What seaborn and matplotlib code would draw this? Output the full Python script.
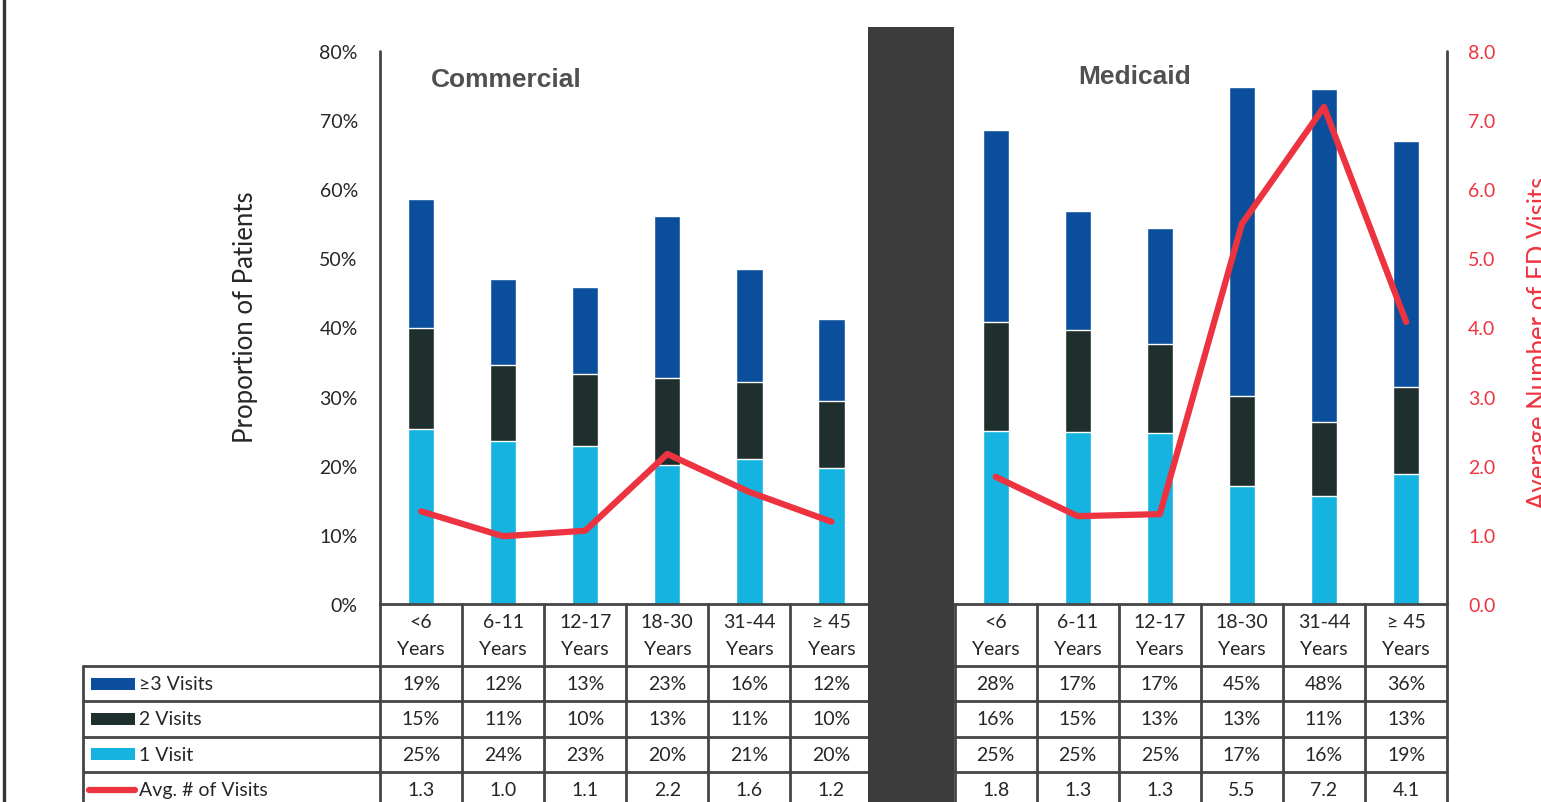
import numpy as np
import pandas as pd
import seaborn as sns
import matplotlib.pyplot as plt
import matplotlib.transforms as mtransforms
from matplotlib.patches import Rectangle
from matplotlib.lines import Line2D

# --- data ---
payers = ["Commercial", "Medicaid"]
age_groups = ["<6\nYears", "6-11\nYears", "12-17\nYears",
              "18-30\nYears", "31-44\nYears", "\u2265 45\nYears"]

# proportion of patients (%) per visit count
comm_1 = [25.3, 23.6, 22.9, 20.1, 21.0, 19.7]
comm_2 = [14.6, 11.0, 10.4, 12.6, 11.1, 9.7]
comm_3 = [18.7, 12.4, 12.6, 23.4, 16.4, 11.8]
med_1 = [25.0, 24.9, 24.7, 17.1, 15.6, 18.8]
med_2 = [15.8, 14.8, 12.9, 13.0, 10.7, 12.6]
med_3 = [27.7, 17.2, 16.8, 44.7, 48.2, 35.6]

# average number of ED visits
comm_avg = [1.34, 0.98, 1.06, 2.17, 1.62, 1.19]
med_avg = [1.84, 1.27, 1.30, 5.50, 7.19, 4.08]

C3 = "#0b4f9c"
C2 = "#1f2f2e"
C1 = "#15b4e0"
RED = "#ee3340"
GRID = "#454545"
TXT = "#262626"

# long table, one row per bar; slot 6 is left empty for the separator
rows = []
for k, (payer, v1, v2, v3, av) in enumerate(zip(
        payers, [comm_1, med_1], [comm_2, med_2], [comm_3, med_3], [comm_avg, med_avg])):
    for i, age in enumerate(age_groups):
        rows.append(dict(payer=payer, age=age, pos=i + k * (len(age_groups) + 1),
                         v1=v1[i], v2=v2[i], v3=v3[i], avg=av[i]))
df = pd.DataFrame(rows)
df["top2"] = df["v1"] + df["v2"]
df["top3"] = df["top2"] + df["v3"]
gap_pos = len(age_groups)

sns.set_theme(style="white")
plt.rcParams["font.family"] = ["Lato", "DejaVu Sans"]

fig = plt.figure(figsize=(15.41, 8.03), dpi=100)
ax = fig.add_axes([0.2466, 0.2466, 0.6925, 0.6887])

# stacked bars drawn as layered cumulative bars
for col, c in [("top3", C3), ("top2", C2), ("v1", C1)]:
    sns.barplot(data=df, x="pos", y=col, native_scale=True, width=0.32,
                color=c, saturation=1, errorbar=None, ax=ax)

ax.set_xlim(-0.5, 12.5)
ax.set_ylim(0, 80)
ax.set_yticks(range(0, 81, 10))
ax.set_yticklabels([f"{t}%" for t in range(0, 81, 10)], color=TXT, fontsize=14)
ax.set_xticks([])
ax.set_xlabel("")
ax.set_ylabel("Proportion of Patients", fontsize=18.5, color=TXT)
ax.yaxis.set_label_coords(-0.1143, 0.521)
ax.tick_params(axis="y", length=0, pad=16)
for s in ["top", "right", "left"]:
    ax.spines[s].set_visible(False)
ax.spines["bottom"].set_color(GRID)
ax.spines["bottom"].set_linewidth(2)

ax2 = ax.twinx()
sns.lineplot(data=df, x="pos", y="avg", units="payer", estimator=None,
             color=RED, lw=4.5, ax=ax2, solid_capstyle="round")
ax2.set_ylim(0, 8)
ax2.set_yticks(np.arange(0, 8.1, 1))
ax2.set_yticklabels([f"{t:.1f}" for t in np.arange(0, 8.1, 1)], color=RED, fontsize=14)
ax2.set_ylabel("Average Number of ED Visits", fontsize=18.5, color=RED)
ax2.yaxis.set_label_coords(1.075, 0.474)
ax2.tick_params(axis="y", length=0, pad=15)
ax2.set_xlim(-0.5, 12.5)
for s in ["top", "left", "bottom", "right"]:
    ax2.spines[s].set_visible(False)

# group titles
ax2.text(0.118, 0.949, "Commercial", transform=ax.transAxes, ha="center", va="center",
         fontsize=19, fontweight="bold", color="#505050", family="Liberation Sans")
ax2.text(0.7076, 0.955, "Medicaid", transform=ax.transAxes, ha="center", va="center",
         fontsize=19, fontweight="bold", color="#505050", family="Liberation Sans")

# --- data table under the chart ---
trans = mtransforms.blended_transform_factory(ax.transData, ax.transAxes)
hb = -62 / 553
rh = 35.3 / 553
row_edges = [hb - k * rh for k in range(5)]
bottom = row_edges[-1]
lab_left = -0.278

def vline(x, y0, y1, tr):
    ax2.add_line(Line2D([x, x], [y0, y1], transform=tr, color=GRID, lw=2, clip_on=False, zorder=6))

def hline(y, x0, x1):
    ax2.add_line(Line2D([x0, x1], [y, y], transform=ax.transAxes, color=GRID, lw=2,
                        clip_on=False, zorder=6))

# column borders (outer ones are the two y axis lines)
for b in np.arange(-0.5, 13.0, 1.0):
    top = 1.0 if b in (-0.5, 12.5) else 0.0
    vline(b, top, bottom, trans)
vline(lab_left, hb, bottom, ax.transAxes)
for y in row_edges[:-1]:
    hline(y, lab_left, 1.0)

# header cells
for _, r in df.iterrows():
    ax2.text(r["pos"], hb / 2, r["age"], transform=trans, ha="center", va="center",
             fontsize=14, color=TXT, linespacing=1.75, clip_on=False)

row_names = ["\u22653 Visits", "2 Visits", "1 Visit", "Avg. # of Visits"]
row_cols = ["v3", "v2", "v1", "avg"]
row_colors = [C3, C2, C1, RED]
for k, (name, col, c) in enumerate(zip(row_names, row_cols, row_colors)):
    yc = row_edges[k] - rh / 2
    if col == "avg":
        ax2.add_line(Line2D([-0.2728, -0.2296], [yc, yc], transform=ax.transAxes, color=c,
                            lw=4.5, solid_capstyle="round", clip_on=False, zorder=6))
    else:
        ax2.add_patch(Rectangle((-0.2709, yc - 0.0109), 0.0412, 0.0218, transform=ax.transAxes,
                                facecolor=c, edgecolor="none", clip_on=False, zorder=6))
    ax2.text(-0.2255, yc, name, transform=ax.transAxes, ha="left", va="center",
             fontsize=14, color=TXT, clip_on=False)
    for _, r in df.iterrows():
        txt = f"{r[col]:.1f}" if col == "avg" else f"{r[col]:.0f}%"
        ax2.text(r["pos"], yc, txt, transform=trans, ha="center", va="center",
                 fontsize=14, color=TXT, clip_on=False)

# dark separator between the two payer groups
ax2.add_patch(Rectangle((gap_pos - 0.56, -0.40), 1.05, 1.443, transform=trans,
                        facecolor="#3c3c3c", edgecolor="none", clip_on=False, zorder=20))

# slide border on the left
fig.add_artist(Line2D([0.0028, 0.0028], [0, 1], transform=fig.transFigure, color="#333333", lw=2.4))

fig.savefig("out.png", dpi=100)
